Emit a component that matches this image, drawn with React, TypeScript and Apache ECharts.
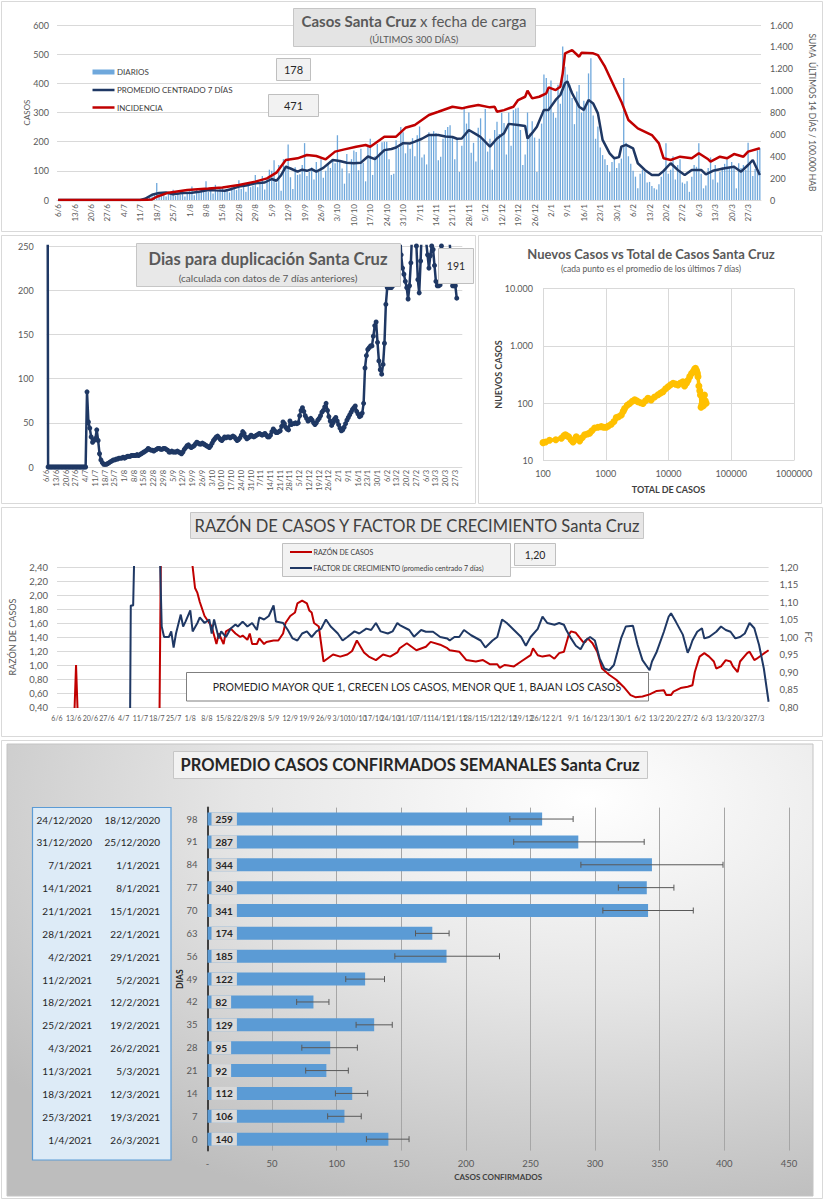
import React, { useEffect, useRef } from 'react';
import * as echarts from 'echarts';

const F = "Lato, 'Noto Sans', sans-serif";
const GRID_C = '#d9d9d9';
const LBL = '#595959';

// ---------- categories (daily dates 6/6/2020 .. 1/4/2021) ----------
const START = Date.UTC(2020, 5, 6);
const dates: string[] = [];
for (let i = 0; i < 300; i++) {
  const d = new Date(START + i * 86400000);
  dates.push(`${d.getUTCDate()}/${d.getUTCMonth() + 1}`);
}

// ---------- Panel 1: daily cases, 7-day centred average, incidence ----------
const dailyCases = [
  0, 0, 0, 0, 0, 0, 0, 0, 0, 0, 0, 0, 0, 0, 0, 0, 0, 0, 0, 0, 0, 0, 0, 0, 0, 0, 0, 0, 0, 0, 0, 0, 0, 0, 0,
  0, 1, 3, 6, 10, 14, 18,
  58, 22, 15, 25, 12, 28, 20,
  35, 14, 26, 18, 30, 12, 24,
  30, 46, 16, 35, 24, 40, 28,
  64, 28, 40, 22, 52, 34, 38,
  44, 28, 36, 26, 48, 40, 34,
  68, 38, 56, 28, 60, 44, 50,
  86, 44, 60, 82, 36, 76, 104,
  100, 136, 60, 120, 32, 140, 118,
  190, 78, 38, 112, 86, 88, 120,
  195, 82, 96, 112, 70, 130, 96,
  140, 76, 100, 122, 110, 140, 126,
  222, 130, 108, 56, 158, 92, 140,
  170, 165, 102, 176, 128, 64, 182,
  210, 86, 150, 192, 162, 198, 200,
  200, 140, 86, 90, 205, 180, 250,
  232, 160, 190, 176, 212, 150, 222,
  252, 146, 156, 122, 232, 226, 236,
  230, 136, 148, 210, 240, 250, 256,
  214, 140, 206, 96, 186, 318, 262,
  300, 162, 196, 132, 248, 280, 210,
  312, 166, 210, 104, 240, 268, 226,
  299, 264, 156, 300, 186, 308, 314,
  316, 240, 120, 156, 300, 228, 270,
  214, 96, 210, 262, 430, 418, 380,
  410, 300, 282, 395, 330, 526, 457,
  430, 396, 350, 260, 372, 394, 300,
  340, 318, 434, 486, 290, 210, 252,
  180, 154, 140, 120, 96, 130, 148,
  110, 126, 142, 418, 196, 150, 124,
  100, 80, 40, 90, 104, 96, 60,
  62, 48, 40, 36, 54, 80, 100,
  195, 90, 104, 150, 70, 120, 140,
  60, 56, 64, 28, 80, 120, 114,
  195, 90, 40, 50, 110, 146, 70,
  120, 60, 96, 112, 124, 140, 110,
  130, 118, 40, 126, 110, 120, 104,
  196, 128, 82, 106, 170, 178,
];

// [day index, value]
const avg7 = [
  [0, 0], [35, 0], [37, 4], [40, 18], [43, 24], [46, 26], [49, 20], [53, 24], [57, 25], [60, 28], [64, 34],
  [67, 33], [71, 32], [74, 38], [77, 46], [80, 50], [84, 57], [88, 60], [91, 72], [93, 66], [95, 85], [97, 114],
  [99, 108], [102, 97], [104, 104], [106, 100], [108, 106], [110, 97], [113, 110], [117, 137], [120, 134],
  [123, 128], [126, 126], [129, 128], [132, 149], [135, 140], [139, 171], [142, 175], [144, 180], [147, 195],
  [150, 194], [152, 200], [155, 210], [158, 223], [162, 223], [165, 218], [168, 216], [170, 210], [172, 211],
  [175, 240], [178, 226], [180, 216], [184, 183], [187, 211], [190, 229], [192, 261], [196, 257], [199, 254],
  [200, 211], [202, 230], [204, 251], [207, 309], [209, 309], [212, 343], [214, 360], [216, 400], [217, 406],
  [219, 366], [222, 320], [224, 309], [226, 343], [228, 331], [230, 297], [232, 206], [235, 160], [237, 143],
  [239, 147], [240, 183], [242, 189], [245, 177], [247, 126], [250, 103], [253, 86], [256, 86], [258, 100],
  [261, 126], [264, 103], [267, 86], [270, 103], [274, 103], [276, 88], [279, 100], [284, 109], [288, 114],
  [291, 97], [294, 120], [296, 137], [299, 86],
];

const incidence = [
  [0, 0], [36, 0], [40, 5], [42, 30], [47, 67], [55, 91], [64, 105], [70, 115], [77, 137], [84, 168], [89, 198],
  [93, 250], [97, 366], [102, 381], [106, 411], [110, 402], [114, 372], [118, 442], [122, 463], [127, 487],
  [131, 503], [133, 487], [139, 579], [144, 579], [148, 660], [152, 686], [158, 777], [162, 807], [168, 853],
  [172, 838], [175, 853], [179, 868], [184, 847], [186, 853], [187, 807], [190, 822], [194, 853], [196, 914],
  [199, 944], [200, 999], [202, 929], [205, 944], [208, 975], [209, 1030], [212, 1005], [214, 1036],
  [215, 1158], [216, 1341], [219, 1371], [222, 1310], [223, 1346], [228, 1341], [230, 1325], [233, 1219],
  [237, 1036], [240, 899], [243, 731], [247, 655], [253, 594], [256, 518], [258, 381], [261, 366], [265, 396],
  [270, 381], [273, 427], [277, 372], [278, 351], [282, 396], [285, 381], [288, 420], [292, 396], [294, 442],
  [299, 473],
];

// ---------- Panel 2: doubling days ----------
const doublingDays = [
  1000,
  0, 0, 0, 0, 0, 0, 0, 0, 0, 0, 0, 0, 0, 0, 0, 0, 0, 0, 0, 0, 0, 0, 0, 0, 0, 0, 0, 0,
  85, 51, 44, 34, 28, 30, 32, 42, 30, 15, 8,
  5, 3, 3, 3, 4, 5, 6, 7, 8, 8,
  9, 9, 10, 10, 10, 11, 10, 11, 12, 12,
  12, 13, 13, 13, 13, 14, 13, 14, 15, 16,
  17, 18, 19, 21, 20, 19, 19, 18, 19, 20,
  21, 21, 20, 20, 21, 21, 20, 19, 17, 17,
  18, 17, 17, 17, 18, 17, 16, 15, 17, 20,
  22, 24, 25, 23, 22, 23, 24, 26, 28, 27,
  26, 26, 27, 26, 25, 24, 23, 22, 24, 27,
  30, 32, 34, 35, 33, 31, 30, 32, 34, 33,
  34, 34, 33, 34, 35, 34, 32, 30, 31, 33,
  36, 40, 38, 34, 32, 33, 34, 36, 35, 34,
  35, 36, 37, 38, 37, 36, 37, 38, 36, 34,
  34, 36, 40, 43, 41, 39, 39, 40, 41, 46,
  51, 49, 45, 43, 42, 52, 48, 49, 49, 50,
  49, 50, 58, 64, 67, 63, 58, 55, 52, 53,
  55, 53, 50, 48, 50, 53, 55, 58, 62, 64,
  68, 72, 64, 57, 52, 47, 50, 54, 56, 52,
  48, 44, 41, 42, 45, 49, 53, 56, 59, 62,
  65, 67, 69, 63, 60, 57, 58, 61, 72, 112,
  126, 133, 135, 137, 137, 148, 160, 164, 141, 120,
  110, 105, 116, 140, 184, 203, 203, 203, 203, 205,
  208, 226, 238, 246, 280, 240, 225, 218, 210, 203,
  190, 205, 231, 270, 290, 255, 250, 212, 197, 233,
  275, 300, 260, 255, 240, 225, 239, 250, 246, 228,
  210, 205, 205, 206, 250, 270, 262, 258, 255, 262,
  252, 232, 205, 205, 205, 191,
];

// ---------- Panel 3: new cases vs total cases ----------
const newVsTotal = [
  [100, 20.5], [110, 21], [127, 22.5], [160, 23], [196, 24.5], [215, 27], [227, 28], [240, 27], [256, 26],
  [280, 23], [301, 21], [320, 23], [339, 26], [360, 24], [384, 22], [420, 25], [461, 28], [510, 29], [553, 30],
  [600, 33], [665, 37], [750, 38], [848, 39], [930, 38], [1019, 38], [1100, 40], [1225, 43], [1350, 48],
  [1474, 56], [1600, 58], [1771, 62], [1900, 72], [2000, 81], [2200, 92], [2400, 99], [2650, 108], [2895, 114],
  [3100, 110], [3264, 106], [3600, 102], [3920, 99], [4300, 110], [4700, 122], [5000, 118], [5300, 114],
  [6000, 128], [6820, 140], [7500, 150], [8200, 159], [9000, 178], [9850, 194], [10800, 210], [11830, 222],
  [13000, 215], [14200, 208], [15500, 225], [17000, 237], [18000, 200], [19300, 222], [20500, 250],
  [21800, 290], [23300, 330], [24800, 355], [26000, 390], [26900, 404], [28000, 370], [28900, 331],
  [29500, 290], [30500, 200], [31500, 165], [32300, 139], [33000, 85], [34000, 95], [35000, 118], [36000, 90],
  [37400, 139], [38500, 110], [39800, 100],
];

// ---------- Panel 4: case ratio and growth factor ----------
const caseRatio = [
  [0, 0], [7, 0], [8, 1.0], [9, 0], [43, 0], [44, 4], [55, 3], [57, 2.4], [58, 2.1], [59, 2.03], [60, 1.9],
  [62, 1.7], [65, 1.55], [67, 1.3], [68, 1.45], [70, 1.3], [71, 1.48], [73, 1.52], [75, 1.45], [77, 1.4],
  [78, 1.42], [80, 1.36], [81, 1.45], [82, 1.3], [84, 1.3], [85, 1.38], [87, 1.3], [88, 1.33], [91, 1.35],
  [93, 1.35], [95, 1.45], [96, 1.6], [98, 1.7], [100, 1.75], [101, 1.88], [103, 1.92], [105, 1.88], [106, 1.78],
  [107, 1.75], [108, 1.6], [110, 1.55], [111, 1.3], [112, 1.05], [114, 1.1], [116, 1.15], [119, 1.12],
  [122, 1.15], [124, 1.2], [126, 1.35], [129, 1.18], [131, 1.12], [134, 1.07], [137, 1.15], [140, 1.12],
  [143, 1.18], [144, 1.24], [147, 1.31], [151, 1.21], [155, 1.26], [157, 1.33], [161, 1.29], [164, 1.24],
  [165, 1.21], [169, 1.19], [172, 1.07], [176, 1.05], [179, 1.07], [182, 1.01], [185, 1.01], [186, 0.96],
  [188, 1.0], [192, 0.98], [195, 1.05], [199, 1.14], [200, 1.24], [202, 1.14], [204, 1.12], [207, 1.14],
  [209, 1.09], [211, 1.17], [213, 1.19], [215, 1.43], [216, 1.48], [218, 1.46], [221, 1.33], [222, 1.33],
  [223, 1.38], [225, 1.31], [227, 1.19], [229, 0.95], [232, 0.86], [235, 0.79], [238, 0.69], [241, 0.57],
  [243, 0.54], [246, 0.55], [249, 0.58], [252, 0.63], [255, 0.64], [256, 0.57], [258, 0.57], [259, 0.62],
  [262, 0.67], [265, 0.69], [267, 0.71], [268, 0.9], [270, 1.12], [272, 1.17], [274, 1.12], [276, 1.05],
  [277, 0.95], [279, 0.98], [281, 1.07], [283, 1.05], [284, 0.98], [286, 0.9], [287, 1.05], [290, 1.17],
  [291, 1.19], [293, 1.07], [294, 1.09], [296, 1.14], [299, 1.21],
];

const growthFactor = [
  [0, 0], [30, 0], [31, 1.09], [32, 1.09], [33, 1.4], [42, 1.4], [43, 1.3], [44, 1.03], [45, 1.0], [47, 1.0],
  [48, 1.016], [49, 0.97], [50, 1.01], [52, 1.064], [53, 1.03], [54, 1.044], [56, 1.076], [57, 1.016],
  [59, 1.04], [60, 1.056], [62, 1.04], [64, 1.05], [65, 1.01], [66, 1.05], [68, 0.996], [69, 1.016], [71, 1.0],
  [73, 1.024], [75, 1.036], [76, 1.03], [78, 1.044], [80, 1.03], [82, 1.04], [84, 1.02], [85, 1.056],
  [87, 1.05], [89, 1.06], [91, 1.09], [92, 1.044], [95, 1.04], [97, 1.02], [99, 0.996], [101, 0.99],
  [103, 1.01], [105, 1.016], [107, 1.0], [109, 1.016], [111, 1.024], [113, 1.05], [115, 1.03], [118, 1.01],
  [120, 0.99], [122, 1.0], [125, 1.016], [127, 1.01], [130, 1.024], [132, 1.02], [134, 1.04], [136, 1.016],
  [139, 1.01], [141, 1.016], [143, 1.04], [144, 1.034], [148, 1.02], [150, 1.001], [153, 1.02], [155, 1.015],
  [158, 1.015], [161, 1.0], [164, 0.996], [165, 0.99], [167, 1.0], [169, 1.0], [171, 1.02], [174, 1.005],
  [178, 0.99], [180, 0.97], [183, 0.99], [185, 1.0], [187, 1.05], [189, 1.04], [192, 1.02], [195, 1.0],
  [197, 0.975], [199, 1.0], [202, 1.023], [204, 1.058], [206, 1.04], [209, 1.035], [211, 1.04], [213, 1.035],
  [214, 1.02], [216, 0.996], [218, 0.975], [220, 0.965], [222, 0.99], [224, 1.0], [226, 0.99], [228, 0.939],
  [230, 0.91], [232, 0.905], [234, 0.92], [237, 0.996], [239, 1.03], [242, 1.032], [244, 0.977],
  [246, 0.934], [249, 0.905], [250, 0.93], [252, 0.958], [255, 1.015], [257, 1.058], [258, 1.068],
  [260, 1.044], [263, 1.006], [265, 0.955], [266, 0.97], [267, 0.99], [269, 1.015], [271, 1.025],
  [272, 0.996], [274, 1.0], [277, 1.015], [279, 1.03], [281, 1.02], [283, 1.015], [285, 0.996], [287, 1.0],
  [289, 1.01], [291, 1.04], [293, 1.025], [295, 0.977], [297, 0.91], [299, 0.815],
];

// ---------- Panel 5: weekly averages ----------
const weekDays = ['98', '91', '84', '77', '70', '63', '56', '49', '42', '35', '28', '21', '14', '7', '0'];
const weeklyAvg = [259, 287, 344, 340, 341, 174, 185, 122, 82, 129, 95, 92, 112, 106, 140];
const weeklyLow = [234, 237, 289, 318, 306, 161, 145, 107, 69, 115, 73, 76, 99, 93, 123];
const weeklyHigh = [283, 338, 399, 361, 376, 187, 226, 137, 94, 143, 116, 109, 124, 119, 156];
const weekEnd = ['24/12/2020', '31/12/2020', '7/1/2021', '14/1/2021', '21/1/2021', '28/1/2021', '4/2/2021',
  '11/2/2021', '18/2/2021', '25/2/2021', '4/3/2021', '11/3/2021', '18/3/2021', '25/3/2021', '1/4/2021'];
const weekStart = ['18/12/2020', '25/12/2020', '1/1/2021', '8/1/2021', '15/1/2021', '22/1/2021', '29/1/2021',
  '5/2/2021', '12/2/2021', '19/2/2021', '26/2/2021', '5/3/2021', '12/3/2021', '19/3/2021', '26/3/2021'];

// ---------- helpers ----------
const thousands = (v: number) => String(Math.round(v)).replace(/\B(?=(\d{3})+(?!\d))/g, '.');
const comma2 = (v: number) => v.toFixed(2).replace('.', ',');

const rect = (x: number, y: number, w: number, h: number, fill: any, stroke: string, z = 100, lw = 1) => ({
  type: 'rect', z, shape: { x, y, width: w, height: h }, style: { fill, stroke, lineWidth: lw },
});
const text = (x: number, y: number, t: string, size: number, o: any = {}) => ({
  type: 'text', z: o.z ?? 110, x, y,
  style: {
    text: t, fontSize: size, fontFamily: F, fill: o.fill ?? '#404040', fontWeight: o.bold ? 'bold' : 'normal',
    align: o.align ?? 'center', verticalAlign: 'middle', rich: o.rich,
  },
});
const line = (x1: number, y1: number, x2: number, y2: number, color: string, w: number) => ({
  type: 'line', z: 110, shape: { x1, y1, x2, y2 }, style: { stroke: color, lineWidth: w },
});

function buildGraphics() {
  const g: any[] = [];
  // panel frames
  g.push(rect(1.5, 1.5, 821, 230, '#ffffff', '#d9d9d9', -100));
  g.push(rect(1.5, 235.5, 474, 268, '#ffffff', '#d9d9d9', -100));
  g.push(rect(478.5, 235.5, 343, 268, '#ffffff', '#d9d9d9', -100));
  g.push(rect(1.5, 507.5, 821, 229, '#ffffff', '#d9d9d9', -100));
  g.push(rect(1.5, 740.5, 821, 458, '#ffffff', '#d9d9d9', -100));
  g.push(rect(7, 744, 806, 452,
    new echarts.graphic.RadialGradient(0.72, 0.12, 0.95, [
      { offset: 0, color: '#ffffff' }, { offset: 0.45, color: '#e6e6e6' }, { offset: 1, color: '#bdbdbd' },
    ]), '#c4c4c4', -99));

  // panel 1
  g.push(rect(293.5, 8.5, 242, 38, '#e4e4e4', '#c6c6c6'));
  g.push(text(414, 21, '{b|Casos Santa Cruz} x fecha de carga', 15, {
    fill: '#595959', rich: { b: { fontWeight: 'bold', fontSize: 15, fontFamily: F, fill: '#595959' } },
  }));
  g.push(text(414, 39, '(ÚLTIMOS 300 DÍAS)', 9.5, { fill: '#595959' }));
  g.push(rect(92.5, 69.5, 22, 5, '#6fa8dc', 'none'));
  g.push(line(92.5, 90, 114.5, 90, '#1f3864', 2.5));
  g.push(line(92.5, 107.5, 114.5, 107.5, '#c00000', 2.5));
  g.push(text(117, 72, 'DIARIOS', 8, { align: 'left' }));
  g.push(text(117, 90, 'PROMEDIO CENTRADO 7 DÍAS', 8, { align: 'left' }));
  g.push(text(117, 108, 'INCIDENCIA', 8, { align: 'left' }));
  g.push(rect(276.5, 58.5, 34, 22, '#f2f2f2', '#bfbfbf'));
  g.push(text(293.5, 69.5, '178', 11, { fill: '#262626' }));
  g.push(rect(268.5, 94.5, 50, 22, '#f2f2f2', '#bfbfbf'));
  g.push(text(293.5, 105.5, '471', 11, { fill: '#262626' }));

  // panel 2
  g.push(rect(136.5, 243.5, 264, 43, '#e8e8e8', '#c6c6c6'));
  g.push(text(268, 259, 'Dias para duplicación Santa Cruz', 16.5, { bold: true, fill: '#595959' }));
  g.push(text(268, 278, '(calculada con datos de 7 días anteriores)', 10, { fill: '#595959' }));
  g.push(rect(438.5, 248.5, 35, 35, '#f2f2f2', '#bfbfbf'));
  g.push(text(456, 266, '191', 10.5, { fill: '#262626' }));

  // panel 3
  g.push(text(651, 254, 'Nuevos Casos vs Total de Casos Santa Cruz', 13, { bold: true, fill: '#595959' }));
  g.push(text(651, 269, '(cada punto es el promedio de los últimos 7 días)', 8.5, { fill: '#595959' }));

  // panel 4
  g.push(rect(190.5, 512.5, 453, 26, '#e7e6e6', '#c6c6c6'));
  g.push(text(417, 525.5, 'RAZÓN DE CASOS Y FACTOR DE CRECIMIENTO Santa Cruz', 16.5, { fill: '#404040' }));
  g.push(rect(282.5, 543.5, 228, 33, '#f2f2f2', '#bfbfbf'));
  g.push(line(290, 552, 312, 552, '#c00000', 2));
  g.push(line(290, 568, 312, 568, '#1f3864', 2));
  g.push(text(313.5, 552, 'RAZÓN DE CASOS', 7, { align: 'left' }));
  g.push(text(313.5, 568, 'FACTOR DE CRECIMIENTO (promedio centrado 7 días)', 7, { align: 'left' }));
  g.push(rect(514.5, 543.5, 41, 22, '#f2f2f2', '#bfbfbf'));
  g.push(text(535, 554.5, '1,20', 10.5, { fill: '#262626' }));
  // explanatory box sits above the grid lines but beneath the series lines
  g.push(rect(186.5, 672.5, 462, 28.5, '#ffffff', '#7f7f7f', 1));
  g.push(text(417, 687, 'PROMEDIO MAYOR QUE 1, CRECEN LOS CASOS, MENOR QUE 1, BAJAN LOS CASOS', 10.5,
    { fill: '#262626', z: 1 }));

  // panel 5
  g.push(rect(173.5, 751.5, 474, 27, '#f2f2f2', '#c6c6c6'));
  g.push(text(410, 765, 'PROMEDIO CASOS CONFIRMADOS SEMANALES Santa Cruz', 16.5, { bold: true, fill: '#262626' }));
  g.push(rect(32.5, 807.5, 138.5, 352.5, '#ddebf7', '#5b9bd5', 100, 1.2));
  for (let k = 0; k < weekEnd.length; k++) {
    const y = 819.5 + k * 22.86;
    g.push(text(92, y, weekEnd[k], 10, { align: 'right', fill: '#262626' }));
    g.push(text(160, y, weekStart[k], 10, { align: 'right', fill: '#262626' }));
  }
  return g;
}

function buildOption(): any {
  const axisLbl = (size: number, extra: any = {}) => ({ fontSize: size, color: LBL, fontFamily: F, ...extra });
  const nameStyle = (size: number, extra: any = {}) => ({ fontSize: size, color: LBL, fontFamily: F, ...extra });
  const split = { show: true, lineStyle: { color: GRID_C, width: 1 } };

  return {
    animation: false,
    backgroundColor: '#ffffff',
    textStyle: { fontFamily: F },
    grid: [
      { left: 57, top: 25, width: 714, height: 175 },
      { left: 46.7, top: 246, width: 415.6, height: 221 },
      { left: 543, top: 288.5, width: 251, height: 172 },
      { left: 57, top: 567, width: 711.6, height: 140 },
      { left: 207.5, top: 807.6, width: 581.4, height: 343 },
    ],
    xAxis: [
      {
        gridIndex: 0, type: 'category', data: dates, boundaryGap: true,
        axisLine: { lineStyle: { color: GRID_C } }, axisTick: { show: false },
        axisLabel: axisLbl(8, { interval: 6, rotate: 90, margin: 4 }),
      },
      {
        gridIndex: 1, type: 'category', data: dates, boundaryGap: false,
        axisLine: { show: false }, axisTick: { show: false },
        axisLabel: axisLbl(7.5, { interval: 6, rotate: 90, margin: 3 }),
      },
      {
        gridIndex: 2, type: 'log', logBase: 10, min: 100, max: 1000000,
        axisLine: { show: false }, axisTick: { show: false }, splitLine: split,
        axisLabel: axisLbl(9, { margin: 8, formatter: (v: number) => String(Math.round(v)) }),
        name: 'TOTAL DE CASOS', nameLocation: 'middle', nameGap: 24, nameMoveOverlap: false,
        nameTextStyle: nameStyle(9, { fontWeight: 'bold', color: '#404040' }),
      },
      {
        gridIndex: 3, type: 'category', data: dates, boundaryGap: false,
        axisLine: { show: false }, axisTick: { show: false },
        axisLabel: axisLbl(7, { interval: 6, margin: 7 }),
      },
      {
        gridIndex: 4, type: 'value', min: 0, max: 450, interval: 50,
        axisLine: { show: false }, axisTick: { show: false },
        splitLine: { show: true, lineStyle: { color: '#a6a6a6', width: 1 } },
        axisLabel: axisLbl(9.5, { margin: 8, formatter: (v: number) => (v === 0 ? '-' : String(v)) }),
        name: 'CASOS CONFIRMADOS', nameLocation: 'middle', nameGap: 22, nameMoveOverlap: false,
        nameTextStyle: nameStyle(8, { fontWeight: 'bold', color: '#404040' }),
      },
    ],
    yAxis: [
      {
        gridIndex: 0, type: 'value', min: 0, max: 600, interval: 100, position: 'left',
        axisLine: { show: false }, axisTick: { show: false }, splitLine: split,
        axisLabel: axisLbl(9, { margin: 8 }),
        name: 'CASOS', nameLocation: 'middle', nameGap: 26, nameMoveOverlap: false, nameTextStyle: nameStyle(8),
      },
      {
        gridIndex: 0, type: 'value', min: 0, max: 1600, interval: 200, position: 'right',
        axisLine: { show: false }, axisTick: { show: false }, splitLine: { show: false },
        axisLabel: axisLbl(9, { margin: 9, formatter: thousands }),
        name: 'SUMA  ÚLTIMOS 14 DÍAS / 100.000 HAB', nameLocation: 'middle', nameRotate: -90, nameGap: 46,
        nameMoveOverlap: false, nameTextStyle: nameStyle(8.5),
      },
      {
        gridIndex: 1, type: 'value', min: 0, max: 250, interval: 50,
        axisLine: { show: false }, axisTick: { show: false }, splitLine: split,
        axisLabel: axisLbl(9, { margin: 13 }),
      },
      {
        gridIndex: 2, type: 'log', logBase: 10, min: 10, max: 10000,
        axisLine: { show: false }, axisTick: { show: false }, splitLine: split,
        axisLabel: axisLbl(9, { margin: 10, formatter: (v: number) => thousands(v) }),
        name: 'NUEVOS CASOS', nameLocation: 'middle', nameGap: 40, nameMoveOverlap: false,
        nameTextStyle: nameStyle(9, { fontWeight: 'bold', color: '#404040' }),
      },
      {
        gridIndex: 3, type: 'value', min: 0.4, max: 2.4, interval: 0.2, position: 'left',
        axisLine: { show: false }, axisTick: { show: false }, splitLine: split,
        axisLabel: axisLbl(9.5, { margin: 9, formatter: comma2 }),
        name: 'RAZÓN DE CASOS', nameLocation: 'middle', nameGap: 40, nameMoveOverlap: false,
        nameTextStyle: nameStyle(9),
      },
      {
        gridIndex: 3, type: 'value', min: 0.8, max: 1.2, interval: 0.05, position: 'right',
        axisLine: { show: false }, axisTick: { show: false }, splitLine: { show: false },
        axisLabel: axisLbl(9.5, { margin: 11, formatter: comma2 }),
        name: 'FC', nameLocation: 'middle', nameRotate: -90, nameGap: 35, nameMoveOverlap: false,
        nameTextStyle: nameStyle(9),
      },
      {
        gridIndex: 4, type: 'category', data: weekDays, inverse: true,
        axisLine: { show: true, lineStyle: { color: '#404040', width: 2 } }, axisTick: { show: false },
        axisLabel: axisLbl(9.5, { margin: 10 }),
        name: 'DIAS', nameLocation: 'middle', nameGap: 23, nameMoveOverlap: false,
        nameTextStyle: nameStyle(8.5, { fontWeight: 'bold', color: '#262626' }),
      },
    ],
    series: [
      {
        name: 'DIARIOS', type: 'bar', xAxisIndex: 0, yAxisIndex: 0, data: dailyCases, barWidth: 1.3,
        itemStyle: { color: '#6fa8dc' }, z: 2,
      },
      {
        name: 'PROMEDIO', type: 'line', xAxisIndex: 0, yAxisIndex: 0, data: avg7, symbol: 'none',
        lineStyle: { color: '#1f3864', width: 2.5 }, z: 3,
      },
      {
        name: 'INCIDENCIA', type: 'line', xAxisIndex: 0, yAxisIndex: 1, data: incidence, symbol: 'none',
        lineStyle: { color: '#c00000', width: 2.5 }, z: 4,
      },
      {
        name: 'DUPLICACION', type: 'line', xAxisIndex: 1, yAxisIndex: 2, data: doublingDays,
        symbol: 'circle', symbolSize: 5, showAllSymbol: true,
        itemStyle: { color: '#1f3864' }, lineStyle: { color: '#1f3864', width: 2.5 }, z: 3,
      },
      {
        name: 'NUEVOS', type: 'line', xAxisIndex: 2, yAxisIndex: 3, data: newVsTotal,
        symbol: 'circle', symbolSize: 7, showAllSymbol: true,
        itemStyle: { color: '#ffc000' }, lineStyle: { color: '#ffc000', width: 3.5 }, z: 3,
      },
      {
        name: 'RAZON', type: 'line', xAxisIndex: 3, yAxisIndex: 4, data: caseRatio, symbol: 'none',
        lineStyle: { color: '#c00000', width: 2 }, z: 3,
      },
      {
        name: 'FC', type: 'line', xAxisIndex: 3, yAxisIndex: 5, data: growthFactor, symbol: 'none',
        lineStyle: { color: '#1f3864', width: 2 }, z: 4,
      },
      {
        name: 'SEMANAL', type: 'bar', xAxisIndex: 4, yAxisIndex: 6, data: weeklyAvg, barWidth: 13,
        itemStyle: { color: '#5b9bd5' }, z: 3,
        label: {
          show: true, position: 'insideLeft', distance: 4, fontSize: 10, fontWeight: 'bold', color: '#262626',
          fontFamily: F, backgroundColor: '#d9d9d9', padding: [2, 4, 1, 4],
        },
      },
      {
        name: 'ERROR', type: 'custom', xAxisIndex: 4, yAxisIndex: 6, z: 6,
        data: weeklyLow.map((lo, i) => [lo, weeklyHigh[i], i]),
        encode: { x: [0, 1], y: 2 },
        renderItem: (_p: any, api: any) => {
          const a = api.coord([api.value(0), api.value(2)]);
          const b = api.coord([api.value(1), api.value(2)]);
          const st = { stroke: '#595959', lineWidth: 1 };
          return {
            type: 'group',
            children: [
              { type: 'line', shape: { x1: a[0], y1: a[1], x2: b[0], y2: b[1] }, style: st },
              { type: 'line', shape: { x1: a[0], y1: a[1] - 3, x2: a[0], y2: a[1] + 3 }, style: st },
              { type: 'line', shape: { x1: b[0], y1: b[1] - 3, x2: b[0], y2: b[1] + 3 }, style: st },
            ],
          };
        },
      },
    ],
    graphic: buildGraphics(),
  };
}

export default function App() {
  const ref = useRef<HTMLDivElement>(null);
  useEffect(() => {
    if (!ref.current) return;
    const chart = echarts.init(ref.current, null, { renderer: 'svg' });
    chart.setOption(buildOption());
    return () => chart.dispose();
  }, []);
  return (
    <div
      ref={ref}
      style={{ position: 'absolute', left: 0, top: 0, width: 824, height: 1200, background: '#ffffff' }}
    />
  );
}
